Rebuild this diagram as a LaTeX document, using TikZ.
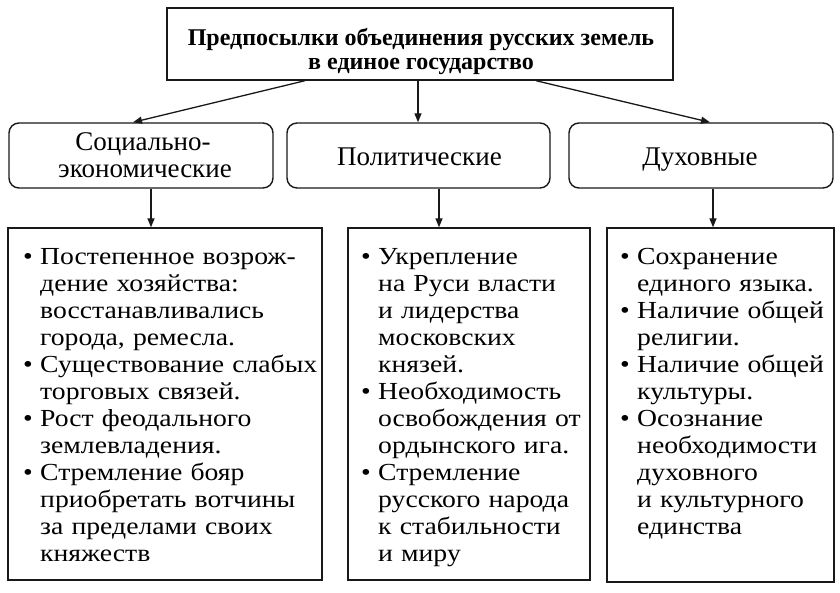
\documentclass[tikz,border=0pt]{standalone}
\usepackage{fontspec}
\setmainfont[FakeStretch=1.13, BoldFeatures={FakeStretch=1.0}]{Liberation Serif}
\newfontfamily\catfont{Liberation Serif}
\usetikzlibrary{arrows.meta,calc}
\newcommand{\itm}{\par\noindent\hangindent=17pt\hangafter=1\makebox[17pt][l]{\strut\textbullet}}
\tikzset{
  frame/.style={draw=black!90, line width=1.4pt},
  headbox/.style={frame, minimum width=506pt, minimum height=72pt, inner sep=0pt},
  headtext/.style={align=center, inner sep=0pt, font=\bfseries\fontsize{24}{24.5}\selectfont},
  catbox/.style={frame, rounded corners=10pt, minimum height=65pt, inner sep=0pt},
  cattext/.style={align=center, inner sep=0pt, font=\catfont\fontsize{27}{27}\selectfont},
  listbox/.style={frame, inner sep=0pt},
  itemtext/.style={anchor=north west, inner sep=0pt, text width=320pt, align=left,
    font=\fontsize{24.5}{27}\selectfont},
  arr/.style={line width=1.3pt, draw=black!90, -{Triangle[length=9pt,width=7pt]}}
}
\begin{document}
\begin{tikzpicture}[x=1pt,y=-1pt]
\useasboundingbox[fill=white] (0,0) rectangle (840,592);
\node[headbox] (top) at (420,44) {};
\node[headtext, anchor=base] (title) at (421,45) {Предпосылки объединения русских земель};
\node[headtext, anchor=base] (title2) at (421,69) {в единое государство};
\node[catbox, minimum width=264pt] (c1) at (141,155.5) {};
\node[catbox, minimum width=263pt] (c2) at (418.5,155.5) {};
\node[catbox, minimum width=264pt] (c3) at (701,155.5) {};
\node[cattext, anchor=base] (c1a) at (143,150) {Социально-};
\node[cattext, anchor=base] (c1b) at (145,177) {экономические};
\node[cattext, anchor=base] (c2t) at (419.5,165) {Политические};
\node[cattext, anchor=base] (c3t) at (700,165) {Духовные};
\node[listbox, minimum width=314pt, minimum height=352pt] (b1) at (165,404) {};
\node[listbox, minimum width=242pt, minimum height=352pt] (b2) at (469,404) {};
\node[listbox, minimum width=227pt, minimum height=354pt] (b3) at (720.5,405) {};
\node[itemtext] (t1) at (23,237.1) {\itm Постепенное возрож-\newline дение хозяйства:\newline восстанавливались\newline города, ремесла.
\itm Существование слабых\newline торговых связей.
\itm Рост феодального\newline землевладения.
\itm Стремление бояр\newline приобретать вотчины\newline за пределами своих\newline княжеств\par};
\node[itemtext] (t2) at (361,237.1) {\itm Укрепление\newline на Руси власти\newline и лидерства\newline московских\newline князей.
\itm Необходимость\newline освобождения от\newline ордынского ига.
\itm Стремление\newline русского народа\newline к стабильности\newline и миру\par};
\node[itemtext] (t3) at (620,237.1) {\itm Сохранение\newline единого языка.
\itm Наличие общей\newline религии.
\itm Наличие общей\newline культуры.
\itm Осознание\newline необходимости\newline духовного\newline и культурного\newline единства\par};
\coordinate (sL) at ([xshift=-115pt]top.south);
\coordinate (sR) at ([xshift=116pt]top.south);
\draw[arr] (sL) -- ([xshift=-8pt]c1.north);
\draw[arr] ([xshift=-2pt]top.south) -- ([xshift=-2pt]top.south |- c2.north);
\draw[arr] (sR) -- ([xshift=9pt]c3.north);
\draw[arr] ([xshift=10pt]c1.south) -- ([xshift=10pt]c1.south |- b1.north);
\draw[arr] ([xshift=20.5pt]c2.south) -- ([xshift=20.5pt]c2.south |- b2.north);
\draw[arr] ([xshift=12pt]c3.south) -- ([xshift=12pt]c3.south |- b3.north);
\end{tikzpicture}
\end{document}
